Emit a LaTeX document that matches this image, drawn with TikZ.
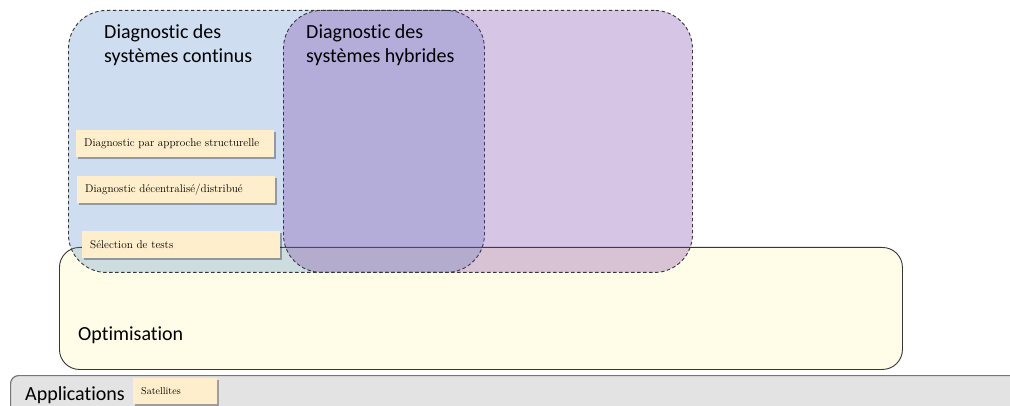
\documentclass[tikz,border=0pt]{standalone}
\usepackage{fontspec}
\newfontfamily\calibri[Ligatures=NoCommon]{Carlito}
\usetikzlibrary{shadows}
\definecolor{contblue}{RGB}{79,135,200}
\definecolor{hybpurple}{RGB}{112,48,160}
\definecolor{optfill}{RGB}{255,253,232}
\definecolor{appfill}{RGB}{227,227,227}
\definecolor{tagfill}{RGB}{255,238,204}
\definecolor{edgegray}{RGB}{55,55,55}
\definecolor{appedge}{RGB}{118,118,118}
\tikzset{
  diagbox/.style={draw=edgegray, dash pattern=on 3.5pt off 2.5pt, line width=0.9pt,
    rounded corners=38pt, fill opacity=0.28, anchor=north west, inner sep=0pt},
  optbox/.style={draw=edgegray, line width=0.9pt, fill=optfill, rounded corners=20pt,
    anchor=north west, inner sep=0pt},
  appbox/.style={draw=appedge, line width=1.2pt, fill=appfill, rounded corners=8pt,
    anchor=north west, inner sep=0pt},
  tagbox/.style={fill=tagfill, draw=none, anchor=north west, inner xsep=8pt, inner ysep=0pt,
    minimum height=27pt, align=left, font=\fontsize{11.2}{13}\selectfont,
    drop shadow={shadow xshift=2pt, shadow yshift=-1.5pt, fill=black, opacity=0.3}},
  bigtext/.style={font=\calibri\fontsize{20}{24}\selectfont, inner sep=0pt, align=left}
}
\begin{document}
\begin{tikzpicture}[x=1pt, y=-1pt]
\useasboundingbox (0,0) rectangle (1010,406);
\clip (0,0) rectangle (1010,406);
% optimisation
\node[optbox, minimum width=843pt, minimum height=122pt] (opt) at (59,247) {};
% diagnostic boxes
\node[diagbox, fill=contblue, minimum width=416pt, minimum height=262pt] (cont) at (68,10) {};
\node[diagbox, fill=hybpurple, minimum width=409pt, minimum height=262pt] (hyb) at (283,10) {};
% texts
\node[bigtext, anchor=north west] (conttxt) at (104,24) {Diagnostic des\\systèmes continus};
\node[bigtext, anchor=north west] (hybtxt) at (306,24) {Diagnostic des\\systèmes hybrides};
\node[bigtext, anchor=base west] (opttxt) at (78,341) {Optimisation};
% tags
\node[tagbox, text width=182pt] (t1) at (76,130) {Diagnostic par approche structurelle};
\node[tagbox, text width=182pt] (t2) at (77,176) {Diagnostic décentralisé/distribué};
\node[tagbox, text width=182pt] (t3) at (82,231) {Sélection de tests};
% applications
\node[appbox, minimum width=1040pt, minimum height=50pt] (app) at (10,375) {};
\node[bigtext, anchor=base west] (apptxt) at (25,400) {Applications};
\node[tagbox, text width=68pt, minimum height=26pt, font=\fontsize{10}{12}\selectfont] (sat) at (133,378) {Satellites};
\end{tikzpicture}
\end{document}
